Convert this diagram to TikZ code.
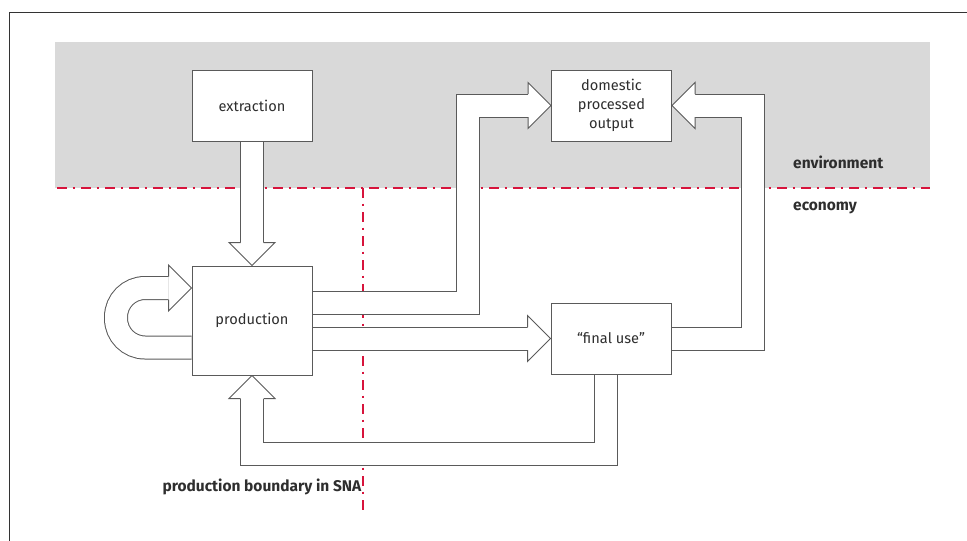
\documentclass[tikz,border=0pt]{standalone}
\usepackage{fontspec}
\setmainfont{Fira Sans}
\usetikzlibrary{calc}

\definecolor{umwelt}{HTML}{D9D9D9}
\definecolor{grenze}{RGB}{215,20,60}
\definecolor{rahmen}{HTML}{333333}
\definecolor{pfeil}{HTML}{5A5A5A}
\definecolor{schrift}{HTML}{2E2E2E}

\pgfdeclarelayer{hintergrund}
\pgfsetlayers{hintergrund,main}

\tikzset{
  kasten/.style={draw=pfeil, fill=white, line width=1pt, minimum width=120pt,
    minimum height=71pt, align=center, text=schrift, font=\fontsize{14.6}{19}\selectfont},
  schaft/.style={draw=pfeil, line width=1pt, double=white, double distance=22pt},
  grenzlinie/.style={draw=grenze, line width=2pt, dash pattern=on 10pt off 5.5pt on 2.5pt off 6pt},
  beschriftung/.style={text=schrift, font=\bfseries\fontsize{15.5}{17}\selectfont, inner sep=1pt},
  pics/spitze/.style={code={
    \filldraw[draw=pfeil, fill=white, line width=1pt] (-23,-11.5) -- (-23,-23) -- (0,0) -- (-23,23) -- (-23,11.5);
  }}
}

\begin{document}
\begin{tikzpicture}[x=1pt, y=-1pt]
    \useasboundingbox (0,0) rectangle (967,541);

    % Rahmen
    \draw[rahmen, line width=1pt] (9.5,541) -- (9.5,12) -- (967,12);

    % Kästen
    \node[kasten] (extr) at (252,105.5) {extraction};
    \node[kasten] (dpo) at (611.5,105.5) {domestic\\processed\\output};
    \node[kasten, minimum height=109pt] (prod) at (252,320.5) {production};
    \node[kasten] (final) at (611,338.5) {“final use”};

    % Beschriftungen
    \node[beschriftung, anchor=west] (env) at (792,162.5) {environment};
    \node[beschriftung, anchor=west] (eco) at (792,208) {economy};
    \node[beschriftung, anchor=east] (sna) at (362.5,487) {production boundary in SNA};

    \begin{pgfonlayer}{hintergrund}
        % Umwelt
        \fill[umwelt] (55,42) rectangle (929.5,188);

        % Grenzen
        \draw[grenzlinie] (57,188) -- (930,188);
        \draw[grenzlinie] (363,188) -- (363,512);

        % Pfeile
        \draw[schaft] (extr.south) -- ($(prod.north)+(0,-23)$);
        \pic[rotate=-90] at (prod.north) {spitze};

        \draw[schaft, rounded corners=29pt] ($(prod.west)+(0,27)$) -- ++(-75.5,0) -- ++(0,-59.5)
            -- ($(prod.west)+(-23,-32.5)$);
        \pic at ($(prod.west)+(0,-32.5)$) {spitze};

        \draw[schaft] ($(prod.east)+(0,-17.5)$) -| ($(dpo.west)+(-83,0)$) -- ($(dpo.west)+(-23,0)$);
        \pic at (dpo.west) {spitze};

        \draw[schaft] (prod.east |- final.west) -- ($(final.west)+(-23,0)$);
        \pic at (final.west) {spitze};

        \draw[schaft] (final.east) -| ($(dpo.east)+(81,0)$) -- ($(dpo.east)+(23,0)$);
        \pic[rotate=180] at (dpo.east) {spitze};

        \draw[schaft] ($(final.south)+(-5,0)$) |- ($(prod.south)+(0,78)$) -- ($(prod.south)+(0,23)$);
        \pic[rotate=90] at (prod.south) {spitze};
    \end{pgfonlayer}
\end{tikzpicture}
\end{document}
